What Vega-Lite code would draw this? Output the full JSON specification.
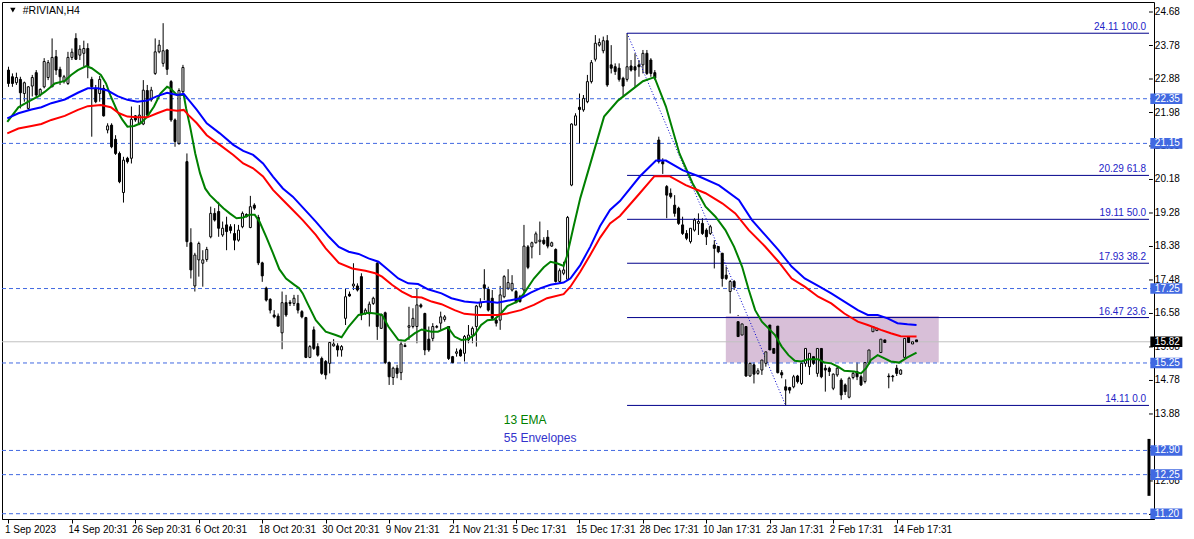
{
"$schema":"https://vega.github.io/schema/vega-lite/v6.json",
"width":1152,"height":517,
"autosize":{"type":"none"},
"padding":{"left":2,"top":2,"right":40,"bottom":20},
"background":"white",
"config":{"view":{"stroke":"black","strokeWidth":1},"font":"Liberation Sans","axis":{"grid":false,"domainColor":"black","tickColor":"black","labelColor":"black"}},
"datasets":{
"yt":[{"p":24.68},{"p":23.78},{"p":22.88},{"p":21.98},{"p":21.08},{"p":20.18},{"p":19.28},{"p":18.38},{"p":17.48},{"p":16.58},{"p":15.68},{"p":14.78},{"p":13.88},{"p":12.98},{"p":12.08},{"p":11.18}],
"hl":[{"p":22.35},{"p":21.15},{"p":17.25},{"p":15.25},{"p":12.90},{"p":12.25},{"p":11.20}],
"last":[{"p":15.82}],
"fib":[{"p":24.11,"t":"24.11 100.0"},{"p":20.29,"t":"20.29 61.8"},{"p":19.11,"t":"19.11 50.0"},{"p":17.93,"t":"17.93 38.2"},{"p":16.47,"t":"16.47 23.6"},{"p":14.11,"t":"14.11 0.0"}],
"candles":[
{"i":0,"o":23.12,"h":23.21,"l":22.67,"c":22.76},{"i":1,"o":22.94,"h":23.03,"l":22.67,"c":22.76},{"i":2,"o":22.78,"h":23.05,"l":22.72,"c":22.92},{"i":3,"o":22.87,"h":22.94,"l":22.09,"c":22.51},{"i":4,"o":22.49,"h":22.81,"l":22.27,"c":22.78},{"i":5,"o":22.09,"h":22.69,"l":22.05,"c":22.67},{"i":6,"o":22.69,"h":22.99,"l":22.41,"c":22.92},{"i":7,"o":23.05,"h":23.12,"l":22.36,"c":22.45},{"i":8,"o":22.45,"h":22.63,"l":22.41,"c":22.60},{"i":9,"o":22.67,"h":23.44,"l":22.63,"c":23.35},
{"i":10,"o":22.92,"h":23.39,"l":22.85,"c":23.32},{"i":11,"o":22.67,"h":23.97,"l":22.67,"c":23.46},{"i":12,"o":23.48,"h":23.66,"l":22.99,"c":23.12},{"i":13,"o":23.14,"h":23.21,"l":22.72,"c":22.94},{"i":14,"o":22.81,"h":22.99,"l":22.76,"c":22.94},{"i":15,"o":22.76,"h":23.61,"l":22.72,"c":23.46},{"i":16,"o":23.46,"h":23.70,"l":23.39,"c":23.60},{"i":17,"o":23.97,"h":24.11,"l":23.39,"c":23.41},{"i":18,"o":23.52,"h":23.79,"l":23.39,"c":23.68},{"i":19,"o":23.57,"h":23.91,"l":23.21,"c":23.70},
{"i":20,"o":23.70,"h":23.84,"l":22.90,"c":23.21},{"i":21,"o":22.87,"h":22.94,"l":21.33,"c":22.67},{"i":22,"o":22.63,"h":22.72,"l":22.23,"c":22.27},{"i":23,"o":22.49,"h":22.96,"l":22.27,"c":22.87},{"i":24,"o":22.63,"h":22.72,"l":21.87,"c":21.89},{"i":25,"o":21.51,"h":21.69,"l":21.42,"c":21.62},{"i":26,"o":21.64,"h":21.69,"l":21.02,"c":21.06},{"i":27,"o":21.26,"h":21.37,"l":20.84,"c":20.88},{"i":28,"o":20.88,"h":20.93,"l":20.08,"c":20.12},{"i":29,"o":19.83,"h":20.79,"l":19.56,"c":20.70},
{"i":30,"o":20.75,"h":20.79,"l":20.61,"c":20.66},{"i":31,"o":20.75,"h":22.14,"l":20.61,"c":21.80},{"i":32,"o":21.89,"h":21.91,"l":21.73,"c":21.78},{"i":33,"o":21.69,"h":22.18,"l":21.64,"c":21.91},{"i":34,"o":21.67,"h":22.85,"l":21.64,"c":22.58},{"i":35,"o":22.57,"h":22.72,"l":21.87,"c":21.91},{"i":36,"o":22.32,"h":22.67,"l":22.27,"c":22.58},{"i":37,"o":23.03,"h":23.97,"l":22.99,"c":23.61},{"i":38,"o":23.61,"h":23.93,"l":23.57,"c":23.79},{"i":39,"o":23.30,"h":24.38,"l":23.21,"c":23.64},
{"i":40,"o":23.66,"h":23.68,"l":22.99,"c":23.14},{"i":41,"o":22.81,"h":22.85,"l":21.73,"c":21.78},{"i":42,"o":21.78,"h":21.82,"l":21.06,"c":21.20},{"i":43,"o":21.15,"h":22.63,"l":21.11,"c":22.57},{"i":44,"o":22.54,"h":23.26,"l":22.49,"c":23.19},{"i":45,"o":20.66,"h":20.88,"l":18.37,"c":18.51},{"i":46,"o":18.48,"h":18.87,"l":17.52,"c":17.75},{"i":47,"o":17.32,"h":18.21,"l":17.17,"c":18.15},{"i":48,"o":18.02,"h":18.51,"l":17.57,"c":18.46},{"i":49,"o":17.93,"h":18.28,"l":17.30,"c":18.02},
{"i":50,"o":18.03,"h":18.37,"l":17.97,"c":18.30},{"i":51,"o":18.64,"h":19.45,"l":18.60,"c":19.27},{"i":52,"o":19.27,"h":19.41,"l":19.05,"c":19.09},{"i":53,"o":19.32,"h":19.58,"l":18.64,"c":18.87},{"i":54,"o":18.69,"h":19.05,"l":18.64,"c":18.87},{"i":55,"o":18.96,"h":19.18,"l":18.28,"c":18.78},{"i":56,"o":18.91,"h":18.98,"l":18.73,"c":18.81},{"i":57,"o":18.73,"h":18.98,"l":18.28,"c":18.55},{"i":58,"o":18.55,"h":18.96,"l":18.51,"c":18.82},{"i":59,"o":18.91,"h":19.32,"l":18.87,"c":19.27},
{"i":60,"o":19.24,"h":19.27,"l":19.16,"c":19.18},{"i":61,"o":18.89,"h":19.74,"l":18.87,"c":19.45},{"i":62,"o":19.49,"h":19.54,"l":19.36,"c":19.41},{"i":63,"o":19.16,"h":19.23,"l":17.88,"c":17.94},{"i":64,"o":17.94,"h":17.97,"l":17.43,"c":17.59},{"i":65,"o":17.26,"h":17.30,"l":16.90,"c":16.94},{"i":66,"o":16.96,"h":16.99,"l":16.58,"c":16.67},{"i":67,"o":16.54,"h":16.67,"l":16.45,"c":16.49},{"i":68,"o":16.51,"h":16.58,"l":16.23,"c":16.24},{"i":69,"o":16.06,"h":17.17,"l":15.62,"c":16.87},
{"i":70,"o":16.87,"h":17.08,"l":16.49,"c":16.54},{"i":71,"o":16.88,"h":16.94,"l":16.78,"c":16.85},{"i":72,"o":16.85,"h":17.08,"l":16.78,"c":16.99},{"i":73,"o":16.85,"h":17.08,"l":16.58,"c":16.67},{"i":74,"o":16.63,"h":16.67,"l":16.45,"c":16.49},{"i":75,"o":16.47,"h":16.49,"l":15.38,"c":15.40},{"i":76,"o":15.40,"h":15.73,"l":15.38,"c":15.69},{"i":77,"o":16.14,"h":16.23,"l":15.60,"c":15.64},{"i":78,"o":15.69,"h":15.78,"l":15.42,"c":15.46},{"i":79,"o":15.37,"h":15.42,"l":14.93,"c":14.97},
{"i":80,"o":15.29,"h":15.33,"l":14.81,"c":14.93},{"i":81,"o":15.24,"h":15.82,"l":14.97,"c":15.80},{"i":82,"o":15.71,"h":15.89,"l":15.69,"c":15.76},{"i":83,"o":15.71,"h":15.78,"l":15.42,"c":15.60},{"i":84,"o":15.60,"h":15.73,"l":15.42,"c":15.69},{"i":85,"o":16.45,"h":17.26,"l":16.27,"c":17.03},{"i":86,"o":17.10,"h":17.17,"l":17.03,"c":17.05},{"i":87,"o":17.32,"h":17.93,"l":17.21,"c":17.37},{"i":88,"o":17.32,"h":17.39,"l":17.17,"c":17.21},{"i":89,"o":17.57,"h":17.66,"l":16.40,"c":16.54},
{"i":90,"o":16.58,"h":16.72,"l":16.54,"c":16.67},{"i":91,"o":16.57,"h":16.90,"l":16.23,"c":16.83},{"i":92,"o":16.85,"h":17.03,"l":16.81,"c":16.99},{"i":93,"o":17.93,"h":17.97,"l":15.87,"c":16.23},{"i":94,"o":16.18,"h":16.58,"l":16.18,"c":16.54},{"i":95,"o":16.60,"h":16.63,"l":15.22,"c":15.26},{"i":96,"o":15.26,"h":15.29,"l":14.66,"c":14.88},{"i":97,"o":14.86,"h":15.15,"l":14.66,"c":15.11},{"i":98,"o":15.11,"h":15.20,"l":14.84,"c":14.97},{"i":99,"o":14.99,"h":15.87,"l":14.79,"c":15.76},
{"i":100,"o":15.72,"h":15.78,"l":15.68,"c":15.69},{"i":101,"o":16.21,"h":16.76,"l":15.87,"c":16.25},{"i":102,"o":16.23,"h":16.72,"l":16.18,"c":16.45},{"i":103,"o":16.23,"h":17.26,"l":15.78,"c":16.81},{"i":104,"o":16.81,"h":16.85,"l":16.72,"c":16.76},{"i":105,"o":16.58,"h":16.60,"l":15.46,"c":15.60},{"i":106,"o":15.89,"h":16.23,"l":15.55,"c":15.60},{"i":107,"o":15.91,"h":16.32,"l":15.82,"c":16.23},{"i":108,"o":16.21,"h":16.27,"l":16.18,"c":16.23},{"i":109,"o":16.32,"h":16.63,"l":16.14,"c":16.49},
{"i":110,"o":16.42,"h":16.54,"l":16.36,"c":16.49},{"i":111,"o":16.23,"h":16.23,"l":15.33,"c":15.37},{"i":112,"o":15.42,"h":15.44,"l":15.24,"c":15.26},{"i":113,"o":15.51,"h":15.64,"l":15.42,"c":15.55},{"i":114,"o":15.60,"h":15.64,"l":15.42,"c":15.44},{"i":115,"o":15.51,"h":16.00,"l":15.29,"c":15.96},{"i":116,"o":15.87,"h":16.27,"l":15.78,"c":16.00},{"i":117,"o":16.00,"h":16.23,"l":15.78,"c":16.18},{"i":118,"o":16.23,"h":16.81,"l":15.69,"c":16.78},{"i":119,"o":16.76,"h":16.99,"l":16.72,"c":16.87},
{"i":120,"o":17.35,"h":17.77,"l":16.94,"c":17.26},{"i":121,"o":17.23,"h":17.30,"l":16.63,"c":16.67},{"i":122,"o":16.99,"h":17.21,"l":16.40,"c":16.45},{"i":123,"o":16.40,"h":16.45,"l":16.23,"c":16.32},{"i":124,"o":16.40,"h":17.32,"l":16.14,"c":17.08},{"i":125,"o":17.03,"h":17.61,"l":16.99,"c":17.57},{"i":126,"o":17.26,"h":17.77,"l":17.21,"c":17.41},{"i":127,"o":17.21,"h":17.61,"l":17.17,"c":17.39},{"i":128,"o":17.17,"h":17.21,"l":16.85,"c":16.90},{"i":129,"o":17.03,"h":17.08,"l":16.87,"c":16.90},
{"i":130,"o":17.21,"h":18.96,"l":17.03,"c":18.39},{"i":131,"o":18.37,"h":18.42,"l":17.77,"c":17.82},{"i":132,"o":18.37,"h":18.51,"l":18.06,"c":18.48},{"i":133,"o":18.48,"h":18.78,"l":18.46,"c":18.72},{"i":134,"o":18.51,"h":19.05,"l":18.15,"c":18.55},{"i":135,"o":18.55,"h":18.63,"l":18.42,"c":18.46},{"i":136,"o":18.63,"h":18.82,"l":18.33,"c":18.39},{"i":137,"o":18.39,"h":18.51,"l":18.37,"c":18.48},{"i":138,"o":18.30,"h":18.33,"l":17.41,"c":17.44},{"i":139,"o":17.44,"h":17.79,"l":17.39,"c":17.73},
{"i":140,"o":17.66,"h":17.97,"l":17.61,"c":17.75},{"i":141,"o":17.50,"h":19.20,"l":17.48,"c":19.16},{"i":142,"o":20.03,"h":21.69,"l":20.00,"c":21.67},{"i":143,"o":21.64,"h":21.96,"l":21.64,"c":21.89},{"i":144,"o":22.12,"h":22.49,"l":21.15,"c":22.06},{"i":145,"o":22.05,"h":22.45,"l":22.00,"c":22.36},{"i":146,"o":22.27,"h":22.99,"l":22.23,"c":22.81},{"i":147,"o":22.81,"h":23.39,"l":22.76,"c":23.32},{"i":148,"o":23.41,"h":24.06,"l":23.35,"c":23.84},{"i":149,"o":23.79,"h":23.97,"l":23.75,"c":23.86},
{"i":150,"o":23.64,"h":24.02,"l":23.57,"c":23.91},{"i":151,"o":23.91,"h":24.06,"l":22.67,"c":22.72},{"i":152,"o":23.26,"h":23.79,"l":23.03,"c":23.17},{"i":153,"o":23.21,"h":23.30,"l":22.99,"c":23.08},{"i":154,"o":23.17,"h":23.30,"l":22.81,"c":22.87},{"i":155,"o":22.90,"h":22.94,"l":22.41,"c":22.69},{"i":156,"o":22.87,"h":24.11,"l":22.81,"c":23.21},{"i":157,"o":23.23,"h":23.39,"l":23.08,"c":23.12},{"i":158,"o":23.21,"h":23.57,"l":22.67,"c":23.12},{"i":159,"o":23.26,"h":23.39,"l":22.94,"c":23.21},
{"i":160,"o":23.26,"h":23.66,"l":23.03,"c":23.57},{"i":161,"o":23.57,"h":23.66,"l":22.99,"c":23.03},{"i":162,"o":23.39,"h":23.44,"l":22.94,"c":23.03},{"i":163,"o":23.05,"h":23.12,"l":22.85,"c":22.90},{"i":164,"o":21.24,"h":21.33,"l":20.61,"c":20.66},{"i":165,"o":20.66,"h":20.75,"l":20.33,"c":20.60},{"i":166,"o":19.99,"h":20.03,"l":19.14,"c":19.76},{"i":167,"o":19.81,"h":19.94,"l":19.67,"c":19.72},{"i":168,"o":19.49,"h":19.76,"l":19.18,"c":19.27},{"i":169,"o":19.41,"h":19.45,"l":18.96,"c":19.00},
{"i":170,"o":18.96,"h":19.18,"l":18.69,"c":18.73},{"i":171,"o":18.73,"h":18.82,"l":18.55,"c":18.60},{"i":172,"o":18.51,"h":18.87,"l":18.46,"c":18.87},{"i":173,"o":18.82,"h":19.14,"l":18.78,"c":19.09},{"i":174,"o":19.00,"h":19.27,"l":18.69,"c":19.05},{"i":175,"o":19.00,"h":19.14,"l":18.69,"c":18.73},{"i":176,"o":18.82,"h":18.87,"l":18.42,"c":18.64},{"i":177,"o":18.73,"h":18.96,"l":18.69,"c":18.91},{"i":178,"o":18.42,"h":18.55,"l":17.79,"c":18.33},{"i":179,"o":18.38,"h":18.39,"l":18.20,"c":18.24},
{"i":180,"o":18.20,"h":18.20,"l":17.30,"c":17.52},{"i":181,"o":17.61,"h":17.84,"l":17.48,"c":17.52},{"i":182,"o":17.17,"h":17.48,"l":16.58,"c":17.44},{"i":183,"o":17.44,"h":17.48,"l":17.21,"c":17.30},{"i":184,"o":16.36,"h":16.54,"l":15.82,"c":15.96},{"i":185,"o":16.00,"h":16.40,"l":15.96,"c":16.30},{"i":186,"o":16.23,"h":16.24,"l":14.88,"c":14.90},{"i":187,"o":14.90,"h":15.38,"l":14.88,"c":15.24},{"i":188,"o":15.20,"h":15.38,"l":14.70,"c":14.95},{"i":189,"o":14.97,"h":15.11,"l":14.93,"c":15.04},
{"i":190,"o":15.06,"h":16.32,"l":14.93,"c":15.33},{"i":191,"o":15.24,"h":15.64,"l":15.15,"c":15.55},{"i":192,"o":16.27,"h":16.32,"l":15.51,"c":15.60},{"i":193,"o":15.64,"h":15.73,"l":15.49,"c":15.51},{"i":194,"o":16.24,"h":16.27,"l":14.97,"c":14.99},{"i":195,"o":14.99,"h":15.06,"l":14.84,"c":14.93},{"i":196,"o":14.61,"h":14.81,"l":14.11,"c":14.52},{"i":197,"o":14.59,"h":14.61,"l":14.43,"c":14.52},{"i":198,"o":14.61,"h":14.93,"l":14.57,"c":14.88},{"i":199,"o":14.90,"h":14.93,"l":14.70,"c":14.75},
{"i":200,"o":14.70,"h":15.29,"l":14.66,"c":15.24},{"i":201,"o":15.24,"h":15.69,"l":15.15,"c":15.64},{"i":202,"o":15.15,"h":15.82,"l":14.93,"c":15.51},{"i":203,"o":15.42,"h":15.51,"l":15.20,"c":15.24},{"i":204,"o":14.97,"h":15.73,"l":14.88,"c":15.64},{"i":205,"o":15.64,"h":15.69,"l":14.84,"c":14.88},{"i":206,"o":15.11,"h":15.20,"l":14.48,"c":15.06},{"i":207,"o":15.11,"h":15.15,"l":14.90,"c":15.02},{"i":208,"o":14.57,"h":14.97,"l":14.52,"c":14.95},{"i":209,"o":14.93,"h":15.15,"l":14.88,"c":15.11},
{"i":210,"o":14.79,"h":14.84,"l":14.26,"c":14.39},{"i":211,"o":14.66,"h":14.70,"l":14.39,"c":14.48},{"i":212,"o":14.33,"h":14.88,"l":14.30,"c":14.84},{"i":213,"o":14.86,"h":15.02,"l":14.81,"c":14.97},{"i":214,"o":15.02,"h":15.29,"l":14.79,"c":14.88},{"i":215,"o":14.88,"h":14.93,"l":14.63,"c":14.66},{"i":216,"o":14.75,"h":15.33,"l":14.70,"c":15.26},{"i":217,"o":15.24,"h":15.64,"l":15.20,"c":15.60},{"i":218,"o":16.09,"h":16.40,"l":15.80,"c":16.23},{"i":219,"o":16.12,"h":16.27,"l":16.09,"c":16.18},
{"i":220,"o":15.53,"h":16.32,"l":15.51,"c":15.89},{"i":221,"o":15.87,"h":15.91,"l":15.76,"c":15.80},{"i":222,"o":14.90,"h":14.97,"l":14.57,"c":14.88},{"i":223,"o":14.90,"h":14.93,"l":14.75,"c":14.88},{"i":224,"o":15.11,"h":15.20,"l":14.90,"c":14.97},{"i":225,"o":14.95,"h":15.08,"l":14.93,"c":15.06},{"i":226,"o":15.40,"h":16.00,"l":15.38,"c":15.91},{"i":227,"o":15.96,"h":16.05,"l":15.73,"c":15.80},{"i":228,"o":15.76,"h":16.24,"l":15.60,"c":15.82},{"i":229,"o":15.87,"h":15.91,"l":15.73,"c":15.82}
],
"lines":[
{"s":"e","i":-0.3,"v":21.73},{"s":"e","i":2.5,"v":22.12},{"s":"e","i":5,"v":22.27},{"s":"e","i":7.5,"v":22.41},{"s":"e","i":9.2,"v":22.54},{"s":"e","i":11.7,"v":22.76},{"s":"e","i":14.2,"v":22.83},{"s":"e","i":15.8,"v":22.99},{"s":"e","i":17.5,"v":23.12},{"s":"e","i":19.6,"v":23.23},{"s":"e","i":21,"v":23.17},{"s":"e","i":23.3,"v":22.99},{"s":"e","i":24.6,"v":22.76},{"s":"e","i":25.8,"v":22.41},{"s":"e","i":27.5,"v":22.00},{"s":"e","i":28.75,"v":21.78},{"s":"e","i":30,"v":21.60},{"s":"e","i":31.7,"v":21.62},{"s":"e","i":33.3,"v":21.69},{"s":"e","i":35,"v":21.87},{"s":"e","i":36.7,"v":22.14},{"s":"e","i":38.3,"v":22.49},{"s":"e","i":40,"v":22.67},{"s":"e","i":40.8,"v":22.63},{"s":"e","i":42.5,"v":22.45},{"s":"e","i":44.2,"v":22.45},{"s":"e","i":44.8,"v":22.09},{"s":"e","i":45.8,"v":21.60},{"s":"e","i":47.1,"v":20.88},{"s":"e","i":48.3,"v":20.35},{"s":"e","i":49.6,"v":19.94},{"s":"e","i":50.8,"v":19.76},{"s":"e","i":52.5,"v":19.58},{"s":"e","i":54.2,"v":19.41},{"s":"e","i":55.8,"v":19.27},{"s":"e","i":57.5,"v":19.14},{"s":"e","i":59.2,"v":19.16},{"s":"e","i":60.8,"v":19.23},{"s":"e","i":62.1,"v":19.23},{"s":"e","i":63.3,"v":19.05},{"s":"e","i":65,"v":18.64},{"s":"e","i":66.7,"v":18.20},{"s":"e","i":68.3,"v":17.77},{"s":"e","i":70,"v":17.52},{"s":"e","i":72.1,"v":17.35},{"s":"e","i":73.3,"v":17.26},{"s":"e","i":74.2,"v":17.12},{"s":"e","i":75.4,"v":16.85},{"s":"e","i":77.5,"v":16.40},{"s":"e","i":80,"v":16.09},{"s":"e","i":82.5,"v":16.00},{"s":"e","i":84,"v":15.94},{"s":"e","i":85.8,"v":16.23},{"s":"e","i":88.3,"v":16.54},{"s":"e","i":90.8,"v":16.60},{"s":"e","i":92.5,"v":16.58},{"s":"e","i":94.2,"v":16.54},{"s":"e","i":95.8,"v":16.23},{"s":"e","i":98.3,"v":15.87},{"s":"e","i":100,"v":15.85},{"s":"e","i":102.5,"v":16.05},{"s":"e","i":104.2,"v":16.15},{"s":"e","i":106.7,"v":16.09},{"s":"e","i":108.3,"v":16.09},{"s":"e","i":110.8,"v":16.21},{"s":"e","i":112.5,"v":15.96},{"s":"e","i":114.2,"v":15.87},{"s":"e","i":115.8,"v":15.89},{"s":"e","i":117.5,"v":16.00},{"s":"e","i":119.2,"v":16.27},{"s":"e","i":120.8,"v":16.40},{"s":"e","i":122.5,"v":16.42},{"s":"e","i":124.2,"v":16.58},{"s":"e","i":125.8,"v":16.78},{"s":"e","i":128.3,"v":16.90},{"s":"e","i":130,"v":17.12},{"s":"e","i":132.5,"v":17.52},{"s":"e","i":135,"v":17.82},{"s":"e","i":136.7,"v":17.97},{"s":"e","i":138.3,"v":17.93},{"s":"e","i":140,"v":17.86},{"s":"e","i":140.8,"v":18.11},{"s":"e","i":142.5,"v":18.91},{"s":"e","i":144.2,"v":19.68},{"s":"e","i":150.2,"v":21.87},{"s":"e","i":153.7,"v":22.30},{"s":"e","i":156.6,"v":22.54},{"s":"e","i":160,"v":22.82},{"s":"e","i":162.9,"v":22.93},{"s":"e","i":165.8,"v":22.14},{"s":"e","i":169.2,"v":20.88},{"s":"e","i":172.5,"v":20.08},{"s":"e","i":175.8,"v":19.45},{"s":"e","i":178.3,"v":19.18},{"s":"e","i":180.8,"v":18.82},{"s":"e","i":183,"v":18.37},{"s":"e","i":185,"v":17.84},{"s":"e","i":186.7,"v":17.21},{"s":"e","i":188.3,"v":16.67},{"s":"e","i":190,"v":16.36},{"s":"e","i":191.7,"v":16.18},{"s":"e","i":193.3,"v":16.00},{"s":"e","i":195,"v":15.69},{"s":"e","i":196.7,"v":15.46},{"s":"e","i":198.3,"v":15.31},{"s":"e","i":200,"v":15.29},{"s":"e","i":201.7,"v":15.35},{"s":"e","i":204.2,"v":15.35},{"s":"e","i":205.8,"v":15.26},{"s":"e","i":207.5,"v":15.24},{"s":"e","i":209.2,"v":15.15},{"s":"e","i":210.8,"v":15.04},{"s":"e","i":213.3,"v":15.02},{"s":"e","i":215,"v":14.97},{"s":"e","i":216.3,"v":15.11},{"s":"e","i":217.5,"v":15.33},{"s":"e","i":219.2,"v":15.46},{"s":"e","i":220.8,"v":15.38},{"s":"e","i":222.5,"v":15.29},{"s":"e","i":224.6,"v":15.26},{"s":"e","i":226.7,"v":15.40},{"s":"e","i":229,"v":15.53},
{"s":"u","i":-0.3,"v":21.82},{"s":"u","i":2.5,"v":21.96},{"s":"u","i":5.8,"v":22.06},{"s":"u","i":8.3,"v":22.12},{"s":"u","i":10.8,"v":22.23},{"s":"u","i":14.2,"v":22.33},{"s":"u","i":17.5,"v":22.51},{"s":"u","i":20,"v":22.63},{"s":"u","i":22.5,"v":22.63},{"s":"u","i":25,"v":22.57},{"s":"u","i":27.5,"v":22.42},{"s":"u","i":30,"v":22.32},{"s":"u","i":32.5,"v":22.27},{"s":"u","i":35,"v":22.30},{"s":"u","i":37.5,"v":22.42},{"s":"u","i":40,"v":22.51},{"s":"u","i":42.5,"v":22.45},{"s":"u","i":44.2,"v":22.48},{"s":"u","i":45.8,"v":22.27},{"s":"u","i":47.5,"v":22.05},{"s":"u","i":50,"v":21.69},{"s":"u","i":53.3,"v":21.42},{"s":"u","i":56.7,"v":21.11},{"s":"u","i":59.2,"v":20.95},{"s":"u","i":61.7,"v":20.84},{"s":"u","i":64.2,"v":20.61},{"s":"u","i":66.7,"v":20.26},{"s":"u","i":69.2,"v":19.94},{"s":"u","i":71.7,"v":19.72},{"s":"u","i":74.2,"v":19.43},{"s":"u","i":77.5,"v":19.05},{"s":"u","i":80.8,"v":18.64},{"s":"u","i":83.3,"v":18.37},{"s":"u","i":85.8,"v":18.24},{"s":"u","i":88.3,"v":18.18},{"s":"u","i":90.8,"v":18.06},{"s":"u","i":93.3,"v":17.97},{"s":"u","i":95.8,"v":17.75},{"s":"u","i":98.3,"v":17.52},{"s":"u","i":100.8,"v":17.39},{"s":"u","i":103.3,"v":17.37},{"s":"u","i":105.8,"v":17.23},{"s":"u","i":109.2,"v":17.12},{"s":"u","i":111.7,"v":16.99},{"s":"u","i":115,"v":16.90},{"s":"u","i":118.3,"v":16.87},{"s":"u","i":120.8,"v":16.90},{"s":"u","i":123.3,"v":16.87},{"s":"u","i":125.8,"v":16.92},{"s":"u","i":129.2,"v":16.99},{"s":"u","i":131.7,"v":17.14},{"s":"u","i":134.2,"v":17.26},{"s":"u","i":136.7,"v":17.35},{"s":"u","i":140,"v":17.41},{"s":"u","i":141.7,"v":17.52},{"s":"u","i":144.2,"v":17.88},{"s":"u","i":146.7,"v":18.37},{"s":"u","i":149.2,"v":18.93},{"s":"u","i":151.7,"v":19.36},{"s":"u","i":154.2,"v":19.60},{"s":"u","i":159.2,"v":20.26},{"s":"u","i":163.3,"v":20.69},{"s":"u","i":165.8,"v":20.69},{"s":"u","i":170,"v":20.43},{"s":"u","i":174.2,"v":20.26},{"s":"u","i":179.2,"v":20.02},{"s":"u","i":184.2,"v":19.63},{"s":"u","i":187.5,"v":19.09},{"s":"u","i":190.8,"v":18.69},{"s":"u","i":194.2,"v":18.28},{"s":"u","i":197.5,"v":17.84},{"s":"u","i":200.8,"v":17.52},{"s":"u","i":204.2,"v":17.32},{"s":"u","i":207.5,"v":17.12},{"s":"u","i":210.8,"v":16.90},{"s":"u","i":214.2,"v":16.67},{"s":"u","i":216.7,"v":16.54},{"s":"u","i":219.2,"v":16.54},{"s":"u","i":221.7,"v":16.45},{"s":"u","i":224.2,"v":16.32},{"s":"u","i":226.7,"v":16.29},{"s":"u","i":229,"v":16.27},
{"s":"d","i":-0.3,"v":21.42},{"s":"d","i":2.5,"v":21.55},{"s":"d","i":5.8,"v":21.62},{"s":"d","i":8.3,"v":21.67},{"s":"d","i":10.8,"v":21.78},{"s":"d","i":14.2,"v":21.89},{"s":"d","i":17.5,"v":22.05},{"s":"d","i":20,"v":22.15},{"s":"d","i":23.3,"v":22.18},{"s":"d","i":25.8,"v":22.12},{"s":"d","i":27.9,"v":21.96},{"s":"d","i":30,"v":21.87},{"s":"d","i":32.5,"v":21.85},{"s":"d","i":35,"v":21.85},{"s":"d","i":37.5,"v":21.96},{"s":"d","i":40,"v":22.06},{"s":"d","i":42.5,"v":22.03},{"s":"d","i":44.2,"v":22.05},{"s":"d","i":45.4,"v":21.91},{"s":"d","i":47.5,"v":21.69},{"s":"d","i":50,"v":21.37},{"s":"d","i":53.3,"v":21.11},{"s":"d","i":56.7,"v":20.84},{"s":"d","i":59.2,"v":20.61},{"s":"d","i":61.7,"v":20.48},{"s":"d","i":64.2,"v":20.26},{"s":"d","i":66.7,"v":19.90},{"s":"d","i":69.2,"v":19.63},{"s":"d","i":71.7,"v":19.36},{"s":"d","i":74.2,"v":19.09},{"s":"d","i":77.5,"v":18.69},{"s":"d","i":80,"v":18.33},{"s":"d","i":83.3,"v":17.94},{"s":"d","i":86.7,"v":17.79},{"s":"d","i":90,"v":17.73},{"s":"d","i":92.5,"v":17.66},{"s":"d","i":94.2,"v":17.57},{"s":"d","i":96.7,"v":17.35},{"s":"d","i":99.2,"v":17.17},{"s":"d","i":101.7,"v":17.03},{"s":"d","i":104.2,"v":17.01},{"s":"d","i":106.7,"v":16.90},{"s":"d","i":109.2,"v":16.83},{"s":"d","i":112.5,"v":16.67},{"s":"d","i":115,"v":16.57},{"s":"d","i":118.3,"v":16.54},{"s":"d","i":120.8,"v":16.54},{"s":"d","i":123.3,"v":16.54},{"s":"d","i":125.8,"v":16.58},{"s":"d","i":129.2,"v":16.67},{"s":"d","i":132.5,"v":16.81},{"s":"d","i":135.8,"v":16.99},{"s":"d","i":140,"v":17.10},{"s":"d","i":141.7,"v":17.30},{"s":"d","i":144.2,"v":17.70},{"s":"d","i":146.7,"v":18.15},{"s":"d","i":149.2,"v":18.62},{"s":"d","i":151.7,"v":19.00},{"s":"d","i":154.2,"v":19.20},{"s":"d","i":159.2,"v":19.81},{"s":"d","i":162.9,"v":20.27},{"s":"d","i":166.7,"v":20.27},{"s":"d","i":170.8,"v":20.03},{"s":"d","i":175.8,"v":19.81},{"s":"d","i":180,"v":19.54},{"s":"d","i":183.3,"v":19.27},{"s":"d","i":186.7,"v":18.82},{"s":"d","i":190.8,"v":18.38},{"s":"d","i":194.2,"v":17.97},{"s":"d","i":197.5,"v":17.52},{"s":"d","i":200.8,"v":17.30},{"s":"d","i":204.2,"v":17.03},{"s":"d","i":207.5,"v":16.85},{"s":"d","i":210.8,"v":16.58},{"s":"d","i":214.2,"v":16.36},{"s":"d","i":216.7,"v":16.27},{"s":"d","i":220,"v":16.14},{"s":"d","i":222.5,"v":16.05},{"s":"d","i":225,"v":15.97},{"s":"d","i":229,"v":15.96}
]
},
"layer":[
{"data":{"name":"candles"},"mark":{"type":"rule","stroke":"black","strokeWidth":1},
 "encoding":{"x":{"field":"i","type":"quantitative","title":null,"scale":{"domain":[-0.375,287.625],"nice":false,"zero":false},
   "axis":{"orient":"bottom","values":[0,16,32,48,64,80,96,112,128,144,160,176,192,208,224],
    "labelExpr":"['1 Sep 2023','14 Sep 20:31','26 Sep 20:31','6 Oct 20:31','18 Oct 20:31','30 Oct 20:31','9 Nov 21:31','21 Nov 21:31','5 Dec 17:31','15 Dec 17:31','28 Dec 17:31','10 Jan 17:31','23 Jan 17:31','2 Feb 17:31','14 Feb 17:31'][round(datum.value/16)]",
    "labelAlign":"left","labelBaseline":"top","labelPadding":1,"labelOffset":-4,"tickSize":4,"tickColor":"black","domainColor":"black","labelColor":"black","labelFont":"Liberation Sans","labelFontSize":10,"grid":false,"title":null,"labelOverlap":false,"labelBound":false,"labelFlush":false}},
  "y":{"field":"l","type":"quantitative","title":null,"axis":null,"scale":{"domain":[11.058,24.949],"nice":false,"zero":false}},
  "y2":{"field":"h"}}},
{"data":{"values":[{}]},"mark":{"type":"rect","fill":"#D8BFD8"},
 "encoding":{
  "x":{"datum":180.9,"type":"quantitative","title":null,"scale":{"domain":[-0.375,287.625],"nice":false,"zero":false}},
  "x2":{"datum":234.6},
  "y":{"datum":16.51,"type":"quantitative","title":null,"scale":{"domain":[11.058,24.949],"nice":false,"zero":false}},
  "y2":{"datum":15.26}}},
{"data":{"name":"hl"},"mark":{"type":"rule","stroke":"#4169E1","strokeDash":[4,3],"strokeWidth":1},
 "encoding":{"y":{"field":"p","type":"quantitative","title":null,"scale":{"domain":[11.058,24.949],"nice":false,"zero":false}}}},
{"data":{"name":"last"},"mark":{"type":"rule","stroke":"#C0C0C0","strokeWidth":1},
 "encoding":{"y":{"field":"p","type":"quantitative","title":null,"scale":{"domain":[11.058,24.949],"nice":false,"zero":false}}}},
{"data":{"name":"fib"},"mark":{"type":"rule","stroke":"#00008B","strokeWidth":1},
 "encoding":{"x":{"datum":156,"type":"quantitative","title":null,"scale":{"domain":[-0.375,287.625],"nice":false,"zero":false}},"x2":{"datum":287.625},
  "y":{"field":"p","type":"quantitative","title":null,"scale":{"domain":[11.058,24.949],"nice":false,"zero":false}}}},
{"data":{"name":"fib"},"mark":{"type":"text","align":"right","baseline":"bottom","dy":-1,"fontSize":10,"font":"Liberation Sans","fill":"#2323C8"},
 "encoding":{"x":{"datum":286.9,"type":"quantitative","title":null,"scale":{"domain":[-0.375,287.625],"nice":false,"zero":false}},
  "y":{"field":"p","type":"quantitative","title":null,"scale":{"domain":[11.058,24.949],"nice":false,"zero":false}},"text":{"field":"t"}}},
{"data":{"values":[{}]},"mark":{"type":"rule","stroke":"#0000CD","strokeDash":[1,2],"strokeWidth":1},
 "encoding":{"x":{"datum":156,"type":"quantitative","title":null,"scale":{"domain":[-0.375,287.625],"nice":false,"zero":false}},"x2":{"datum":196},
  "y":{"datum":24.11,"type":"quantitative","title":null,"scale":{"domain":[11.058,24.949],"nice":false,"zero":false}},"y2":{"datum":14.11}}},
{"data":{"name":"candles"},"mark":{"type":"bar","orient":"vertical","size":2,"stroke":"black","strokeWidth":1},
 "encoding":{"x":{"field":"i","type":"quantitative","title":null,"scale":{"domain":[-0.375,287.625],"nice":false,"zero":false}},
  "y":{"field":"o","type":"quantitative","title":null,"scale":{"domain":[11.058,24.949],"nice":false,"zero":false}},"y2":{"field":"c"},
  "fill":{"condition":{"test":"datum.c >= datum.o","value":"white"},"value":"black"}}},
{"data":{"name":"lines"},"mark":{"type":"line","strokeWidth":2},
 "encoding":{"x":{"field":"i","type":"quantitative","title":null,"scale":{"domain":[-0.375,287.625],"nice":false,"zero":false}},
  "y":{"field":"v","type":"quantitative","title":null,"scale":{"domain":[11.058,24.949],"nice":false,"zero":false}},
  "stroke":{"field":"s","type":"nominal","scale":{"domain":["e","u","d"],"range":["#008000","#0000FF","#FF0000"]},"legend":null},
  "order":{"field":"i","type":"quantitative"}}},
{"data":{"values":[{}]},"mark":{"type":"text","align":"left","baseline":"middle","fontSize":12,"font":"Liberation Sans","fill":"#008000","text":"13 EMA"},
 "encoding":{"x":{"datum":124.9,"type":"quantitative","title":null,"scale":{"domain":[-0.375,287.625],"nice":false,"zero":false}},
  "y":{"datum":13.72,"type":"quantitative","title":null,"scale":{"domain":[11.058,24.949],"nice":false,"zero":false}}}},
{"data":{"values":[{}]},"mark":{"type":"text","align":"left","baseline":"middle","fontSize":12,"font":"Liberation Sans","fill":"#3333CC","text":"55 Envelopes"},
 "encoding":{"x":{"datum":124.9,"type":"quantitative","title":null,"scale":{"domain":[-0.375,287.625],"nice":false,"zero":false}},
  "y":{"datum":13.235,"type":"quantitative","title":null,"scale":{"domain":[11.058,24.949],"nice":false,"zero":false}}}},
{"data":{"values":[{}]},"mark":{"type":"text","align":"left","baseline":"middle","fontSize":10.5,"font":"Liberation Sans","fill":"black","text":"#RIVIAN,H4"},
 "encoding":{"x":{"datum":3.6,"type":"quantitative","title":null,"scale":{"domain":[-0.375,287.625],"nice":false,"zero":false}},
  "y":{"datum":24.72,"type":"quantitative","title":null,"scale":{"domain":[11.058,24.949],"nice":false,"zero":false}}}},
{"data":{"values":[{}]},"mark":{"type":"point","shape":"triangle-down","filled":true,"fill":"black","size":28,"opacity":1},
 "encoding":{"x":{"datum":1.1,"type":"quantitative","title":null,"scale":{"domain":[-0.375,287.625],"nice":false,"zero":false}},
  "y":{"datum":24.73,"type":"quantitative","title":null,"scale":{"domain":[11.058,24.949],"nice":false,"zero":false}}}},
{"data":{"name":"yt"},"mark":{"type":"rule","stroke":"black","strokeWidth":1,"clip":false},
 "encoding":{"x":{"datum":287.625,"type":"quantitative","title":null,"scale":{"domain":[-0.375,287.625],"nice":false,"zero":false}},"x2":{"datum":288.6},
  "y":{"field":"p","type":"quantitative","title":null,"scale":{"domain":[11.058,24.949],"nice":false,"zero":false}}}},
{"data":{"name":"yt"},"transform":[{"filter":"datum.p != 12.98 && datum.p != 11.18"}],"mark":{"type":"text","align":"left","baseline":"middle","fontSize":10,"font":"Liberation Sans","fill":"black","clip":false},
 "encoding":{"x":{"datum":289.1,"type":"quantitative","title":null,"scale":{"domain":[-0.375,287.625],"nice":false,"zero":false}},
  "y":{"field":"p","type":"quantitative","title":null,"scale":{"domain":[11.058,24.949],"nice":false,"zero":false}},
  "text":{"field":"p","type":"quantitative","format":".2f"}}},
{"data":{"values":[{}]},"mark":{"type":"rule","stroke":"black","strokeWidth":3,"clip":false},
 "encoding":{"x":{"datum":287.625,"type":"quantitative","title":null,"scale":{"domain":[-0.375,287.625],"nice":false,"zero":false}},
  "y":{"datum":13.21,"type":"quantitative","title":null,"scale":{"domain":[11.058,24.949],"nice":false,"zero":false}},"y2":{"datum":11.68}}},
{"data":{"name":"hl"},"mark":{"type":"point","shape":"M-1,-0.33L1,-0.33L1,0.33L-1,0.33Z","filled":true,"fill":"#4169E1","size":1024,"opacity":1,"clip":false},
 "encoding":{"x":{"datum":292,"type":"quantitative","title":null,"scale":{"domain":[-0.375,287.625],"nice":false,"zero":false}},
  "y":{"field":"p","type":"quantitative","title":null,"scale":{"domain":[11.058,24.949],"nice":false,"zero":false}}}},
{"data":{"name":"last"},"mark":{"type":"point","shape":"M-1,-0.33L1,-0.33L1,0.33L-1,0.33Z","filled":true,"fill":"black","size":1024,"opacity":1,"clip":false},
 "encoding":{"x":{"datum":292,"type":"quantitative","title":null,"scale":{"domain":[-0.375,287.625],"nice":false,"zero":false}},
  "y":{"field":"p","type":"quantitative","title":null,"scale":{"domain":[11.058,24.949],"nice":false,"zero":false}}}},
{"data":{"name":"hl"},"mark":{"type":"text","align":"left","baseline":"middle","fontSize":10,"font":"Liberation Sans","fill":"white","clip":false},
 "encoding":{"x":{"datum":289.1,"type":"quantitative","title":null,"scale":{"domain":[-0.375,287.625],"nice":false,"zero":false}},
  "y":{"field":"p","type":"quantitative","title":null,"scale":{"domain":[11.058,24.949],"nice":false,"zero":false}},
  "text":{"field":"p","type":"quantitative","format":".2f"}}},
{"data":{"name":"last"},"mark":{"type":"text","align":"left","baseline":"middle","fontSize":10,"font":"Liberation Sans","fill":"white","clip":false},
 "encoding":{"x":{"datum":289.1,"type":"quantitative","title":null,"scale":{"domain":[-0.375,287.625],"nice":false,"zero":false}},
  "y":{"field":"p","type":"quantitative","title":null,"scale":{"domain":[11.058,24.949],"nice":false,"zero":false}},
  "text":{"field":"p","type":"quantitative","format":".2f"}}}
]
}
